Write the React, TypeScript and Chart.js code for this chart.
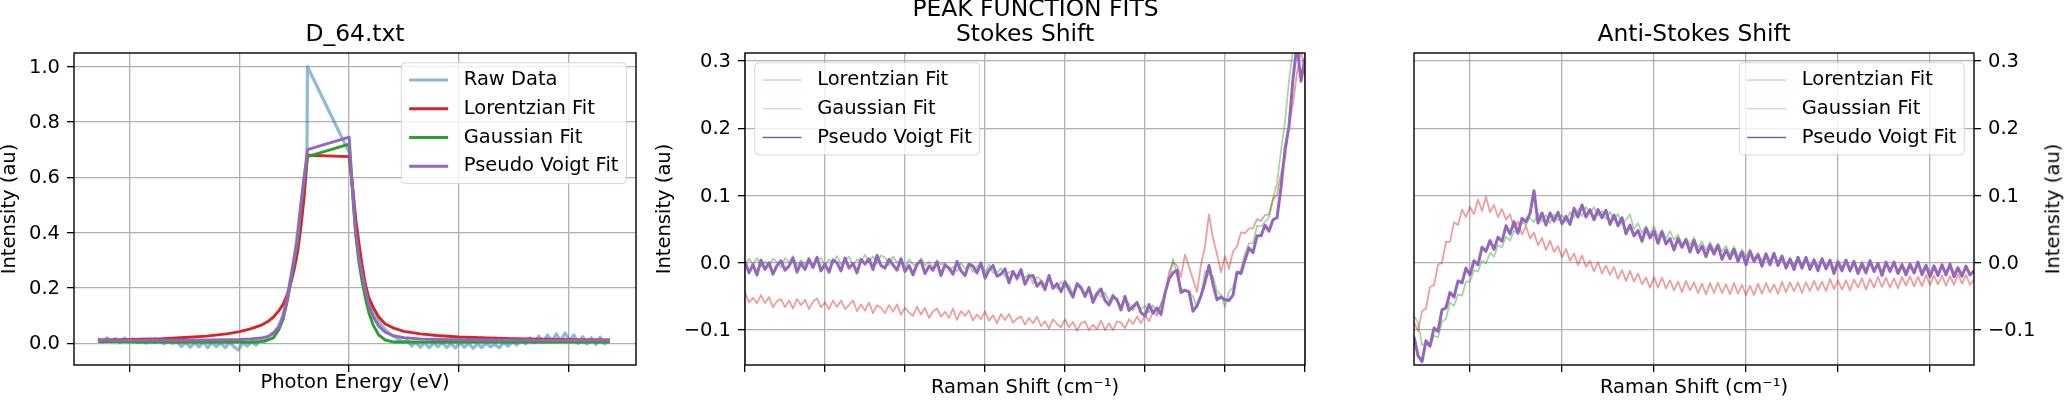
import React, { useEffect, useRef } from 'react';
import { Chart, registerables } from 'chart.js';

Chart.register(...registerables);

const FONT = "'DejaVu Sans', 'Liberation Sans', sans-serif";
const TICK_PX = 19.5;
const TITLE_PX = 23.4;
const GRID = '#b0b0b0';

// ---------- Panel 1: D_64.txt ----------
const photonTicks = [1, 2, 3, 4, 5];
const photonIntensityTicks = [0, 0.2, 0.4, 0.6, 0.8, 1.0];

const rawEnergy = [
  0.71, 0.75, 0.79, 0.83, 0.87, 0.91, 0.95, 0.99, 1.03, 1.07,
  1.11, 1.15, 1.19, 1.23, 1.27, 1.31, 1.35, 1.39, 1.43, 1.47,
  1.51, 1.55, 1.59, 1.63, 1.67, 1.71, 1.75, 1.79, 1.83, 1.87,
  1.91, 1.95, 1.99, 2.03, 2.07, 2.11, 2.15, 2.19, 2.23, 2.27,
  2.31, 2.35, 2.39, 2.43, 2.47, 2.51, 2.55, 2.59, 2.615, 2.62,
  3.0, 3.03, 3.06, 3.09, 3.12, 3.15, 3.18, 3.21, 3.25, 3.29,
  3.33, 3.37, 3.41, 3.45, 3.49, 3.53, 3.57, 3.61, 3.65, 3.69,
  3.73, 3.77, 3.81, 3.85, 3.89, 3.93, 3.97, 4.01, 4.05, 4.09,
  4.13, 4.17, 4.21, 4.25, 4.29, 4.33, 4.37, 4.41, 4.45, 4.49,
  4.53, 4.57, 4.61, 4.65, 4.69, 4.73, 4.77, 4.81, 4.85, 4.89,
  4.93, 4.97, 5.01, 5.05, 5.09, 5.13, 5.17, 5.21, 5.25, 5.29,
  5.33, 5.37,
];
const rawIntensity = [
  0.018, 0.004, 0.020, 0.006, 0.017, 0.002, 0.019, 0.005, 0.016, 0.003,
  0.015, 0.001, 0.014, 0.003, 0.012, -0.002, 0.011, 0.000, 0.006, -0.012,
  0.004, -0.014, 0.002, -0.013, 0.005, -0.015, 0.003, -0.012, 0.001, -0.016,
  0.004, -0.013, -0.024, 0.002, -0.010, 0.006, -0.006, 0.010, 0.004, 0.024,
  0.036, 0.058, 0.095, 0.16, 0.245, 0.34, 0.47, 0.60, 0.665, 1.0,
  0.69, 0.57, 0.43, 0.33, 0.26, 0.20, 0.15, 0.12, 0.09, 0.068,
  0.05, 0.035, 0.024, 0.014, 0.004, 0.010, -0.010, 0.004, -0.014, 0.002,
  -0.016, 0.001, -0.013, 0.003, -0.015, -0.001, -0.017, 0.002, -0.014, 0.000,
  -0.018, -0.002, -0.015, 0.001, -0.013, -0.004, -0.016, 0.003, -0.010, 0.006,
  -0.006, 0.012, -0.002, 0.020, 0.002, 0.026, 0.004, 0.030, 0.006, 0.034,
  0.008, 0.038, 0.010, 0.030, 0.000, 0.024, -0.002, 0.020, -0.004, 0.022,
  -0.002, 0.012,
];

const fitEnergy = [
  0.71, 0.9, 1.1, 1.3, 1.5, 1.7, 1.9, 2.0, 2.1, 2.2,
  2.26, 2.31, 2.36, 2.40, 2.44, 2.47, 2.50, 2.53, 2.56, 2.59,
  2.62, 3.00, 3.03, 3.06, 3.09, 3.12, 3.15, 3.18, 3.22, 3.27,
  3.33, 3.40, 3.50, 3.65, 3.8, 4.0, 4.2, 4.5, 4.8, 5.1,
  5.38,
];
const lorentzFit = [
  0.012, 0.013, 0.015, 0.017, 0.021, 0.026, 0.035, 0.042, 0.052, 0.066,
  0.079, 0.095, 0.118, 0.143, 0.18, 0.22, 0.27, 0.33, 0.42, 0.53,
  0.68, 0.675, 0.57, 0.45, 0.36, 0.28, 0.21, 0.165, 0.13, 0.095,
  0.07, 0.056, 0.043, 0.034, 0.028, 0.023, 0.020, 0.017, 0.015, 0.013,
  0.012,
];
const gaussFit = [
  0.006, 0.006, 0.005, 0.005, 0.005, 0.005, 0.005, 0.005, 0.005, 0.007,
  0.012, 0.02, 0.05, 0.09, 0.16, 0.23, 0.30, 0.37, 0.49, 0.59,
  0.675, 0.72, 0.55, 0.39, 0.29, 0.22, 0.16, 0.11, 0.065, 0.03,
  0.012, 0.005, 0.005, 0.005, 0.005, 0.005, 0.005, 0.005, 0.005, 0.005,
  0.005,
];
const voigtFit = [
  0.011, 0.011, 0.011, 0.011, 0.011, 0.012, 0.013, 0.014, 0.016, 0.019,
  0.025, 0.038, 0.058, 0.10, 0.17, 0.24, 0.31, 0.38, 0.50, 0.60,
  0.70, 0.745, 0.56, 0.40, 0.31, 0.25, 0.19, 0.14, 0.095, 0.062,
  0.04, 0.028, 0.02, 0.016, 0.014, 0.013, 0.012, 0.012, 0.011, 0.011,
  0.011,
];

// ---------- Panels 2 & 3: Raman shift ----------
const stokesTicks = [0, 1, 2, 3, 4, 5, 6, 7];
const antiStokesTicks = [0.7, 1.85, 3.0, 4.15, 5.3, 6.45];
const shiftIntensityTicks = [-0.1, 0, 0.1, 0.2, 0.3];

const ramanShift = [
  0, 0.05, 0.1, 0.15, 0.2, 0.25, 0.3, 0.35, 0.4, 0.45,
  0.5, 0.55, 0.6, 0.65, 0.7, 0.75, 0.8, 0.85, 0.9, 0.95,
  1.0, 1.05, 1.1, 1.15, 1.2, 1.25, 1.3, 1.35, 1.4, 1.45,
  1.5, 1.55, 1.6, 1.65, 1.7, 1.75, 1.8, 1.85, 1.9, 1.95,
  2.0, 2.05, 2.1, 2.15, 2.2, 2.25, 2.3, 2.35, 2.4, 2.45,
  2.5, 2.55, 2.6, 2.65, 2.7, 2.75, 2.8, 2.85, 2.9, 2.95,
  3.0, 3.05, 3.1, 3.15, 3.2, 3.25, 3.3, 3.35, 3.4, 3.45,
  3.5, 3.55, 3.6, 3.65, 3.7, 3.75, 3.8, 3.85, 3.9, 3.95,
  4.0, 4.05, 4.1, 4.15, 4.2, 4.25, 4.3, 4.35, 4.4, 4.45,
  4.5, 4.55, 4.6, 4.65, 4.7, 4.75, 4.8, 4.85, 4.9, 4.95,
  5.0, 5.05, 5.1, 5.15, 5.2, 5.25, 5.3, 5.35, 5.4, 5.45,
  5.5, 5.55, 5.6, 5.65, 5.7, 5.75, 5.8, 5.85, 5.9, 5.95,
  6.0, 6.05, 6.1, 6.15, 6.2, 6.25, 6.3, 6.35, 6.4, 6.45,
  6.5, 6.55, 6.6, 6.65, 6.7, 6.75, 6.8, 6.85, 6.9, 6.95,
  7.0,
];

const stokesVoigt = [
  0.002, -0.015, -0.003, -0.018, 0.004, -0.010, 0.000, -0.017, -0.004, 0.003,
  -0.011, -0.005, 0.007, -0.014, 0.000, -0.010, 0.005, -0.007, 0.008, -0.012,
  -0.002, -0.014, 0.004, 0.000, -0.012, 0.007, -0.008, -0.001, -0.015, 0.005,
  -0.002, 0.006, -0.010, 0.011, -0.004, -0.008, 0.005, -0.003, -0.011, 0.006,
  -0.013, -0.004, -0.018, -0.002, 0.003, -0.016, -0.005, -0.011, 0.001, -0.019,
  -0.003, -0.008, -0.017, 0.002, -0.012, -0.019, -0.002, -0.005, -0.015, 0.000,
  -0.023, -0.011, -0.004, -0.020, -0.017, -0.009, -0.030, -0.013, -0.023, -0.010,
  -0.032, -0.020, -0.019, -0.035, -0.028, -0.040, -0.019, -0.038, -0.031, -0.043,
  -0.028, -0.040, -0.051, -0.031, -0.037, -0.050, -0.037, -0.059, -0.046, -0.039,
  -0.056, -0.063, -0.050, -0.055, -0.070, -0.050, -0.071, -0.065, -0.059, -0.074,
  -0.079, -0.062, -0.075, -0.067, -0.077, -0.045, -0.024, -0.015, -0.011, -0.044,
  -0.041, -0.043, -0.072, -0.064, -0.049, -0.029, -0.004, -0.032, -0.055, -0.051,
  -0.055, -0.056, -0.048, -0.014, -0.016, 0.004, 0.022, 0.015, 0.040, 0.040,
  0.056, 0.047, 0.064, 0.067, 0.112, 0.169, 0.203, 0.273, 0.325, 0.270,
  0.305,
];
const stokesGauss = [
  -0.004, 0.006, -0.002, 0.007, -0.006, 0.002, -0.005, 0.006, 0.001, -0.007,
  0.007, 0.000, 0.010, -0.004, 0.004, -0.002, 0.008, -0.006, 0.005, 0.007,
  -0.003, 0.005, 0.000, 0.010, -0.002, 0.004, 0.009, -0.004, 0.005, 0.001,
  0.012, 0.000, 0.010, -0.002, 0.011, 0.008, -0.004, 0.009, 0.000, 0.003,
  -0.008, 0.005, -0.002, -0.006, 0.007, -0.004, 0.001, -0.007, 0.004, -0.003,
  0.000, -0.011, -0.006, -0.013, 0.000, -0.009, -0.003, -0.014, -0.005, -0.001,
  -0.015, -0.003, -0.015, -0.015, -0.008, -0.021, -0.014, -0.012, -0.026, -0.016,
  -0.022, -0.016, -0.031, -0.021, -0.025, -0.033, -0.022, -0.033, -0.038, -0.028,
  -0.037, -0.033, -0.046, -0.034, -0.039, -0.046, -0.036, -0.051, -0.044, -0.051,
  -0.044, -0.057, -0.046, -0.057, -0.064, -0.056, -0.060, -0.071, -0.060, -0.069,
  -0.064, -0.074, -0.063, -0.075, -0.062, -0.045, -0.028, 0.006, -0.020, -0.039,
  -0.040, -0.045, -0.050, -0.066, -0.051, -0.012, -0.018, -0.020, -0.042, -0.048,
  -0.066, -0.043, -0.036, -0.017, -0.010, 0.014, 0.029, 0.029, 0.055, 0.054,
  0.061, 0.067, 0.096, 0.118, 0.167, 0.209, 0.271, 0.317, 0.330, 0.330,
  0.330,
];
const stokesLorentz = [
  -0.044, -0.059, -0.052, -0.060, -0.048, -0.060, -0.051, -0.066, -0.057, -0.054,
  -0.066, -0.056, -0.068, -0.054, -0.063, -0.055, -0.069, -0.058, -0.053, -0.066,
  -0.059, -0.069, -0.056, -0.066, -0.056, -0.069, -0.063, -0.056, -0.072, -0.062,
  -0.071, -0.059, -0.075, -0.063, -0.067, -0.075, -0.063, -0.073, -0.062, -0.077,
  -0.067, -0.074, -0.079, -0.065, -0.077, -0.067, -0.082, -0.072, -0.068, -0.080,
  -0.073, -0.082, -0.068, -0.085, -0.072, -0.079, -0.071, -0.086, -0.077, -0.084,
  -0.072, -0.086, -0.078, -0.090, -0.076, -0.085, -0.076, -0.089, -0.083, -0.080,
  -0.092, -0.082, -0.090, -0.080, -0.094, -0.087, -0.098, -0.084, -0.091, -0.096,
  -0.084, -0.096, -0.088, -0.101, -0.090, -0.087, -0.100, -0.092, -0.099, -0.086,
  -0.100, -0.090, -0.100, -0.087, -0.089, -0.097, -0.084, -0.091, -0.080, -0.090,
  -0.078, -0.087, -0.073, -0.079, -0.061, -0.050, -0.014, 0.001, -0.004, -0.021,
  0.012, -0.006, -0.025, -0.043, -0.003, 0.025, 0.072, 0.036, 0.013, -0.014,
  0.010, -0.009, 0.017, 0.024, 0.045, 0.044, 0.051, 0.051, 0.065, 0.062,
  0.071, 0.072, 0.094, 0.101, 0.133, 0.155, 0.204, 0.237, 0.282, 0.316,
  0.280,
];

const antiVoigt = [
  -0.110, -0.138, -0.147, -0.116, -0.124, -0.097, -0.102, -0.070, -0.067, -0.044,
  -0.051, -0.027, -0.030, -0.008, -0.018, 0.003, -0.003, 0.023, 0.017, 0.033,
  0.020, 0.038, 0.032, 0.055, 0.043, 0.061, 0.044, 0.066, 0.061, 0.073,
  0.107, 0.059, 0.074, 0.056, 0.074, 0.062, 0.075, 0.058, 0.069, 0.057,
  0.081, 0.068, 0.086, 0.068, 0.079, 0.064, 0.079, 0.067, 0.078, 0.057,
  0.071, 0.055, 0.067, 0.043, 0.056, 0.040, 0.048, 0.032, 0.051, 0.037,
  0.047, 0.029, 0.046, 0.028, 0.036, 0.019, 0.036, 0.023, 0.034, 0.016,
  0.033, 0.015, 0.025, 0.009, 0.026, 0.013, 0.026, 0.005, 0.019, 0.006,
  0.020, 0.002, 0.016, -0.003, 0.017, 0.002, 0.012, -0.005, 0.013, -0.003,
  0.014, -0.004, 0.010, -0.008, 0.005, -0.010, 0.008, -0.008, 0.008, -0.010,
  0.004, -0.012, 0.006, -0.009, 0.004, -0.016, 0.001, -0.012, 0.004, -0.012,
  0.002, -0.016, -0.002, -0.015, 0.003, -0.013, -0.001, -0.019, 0.001, -0.013,
  0.001, -0.016, -0.003, -0.018, -0.002, -0.015, 0.001, -0.018, -0.004, -0.021,
  -0.005, -0.019, -0.003, -0.018, -0.002, -0.021, -0.008, -0.020, -0.005, -0.018,
  -0.012,
];
const antiGauss = [
  -0.079, -0.089, -0.122, -0.120, -0.125, -0.108, -0.111, -0.088, -0.083, -0.059,
  -0.064, -0.047, -0.049, -0.028, -0.028, -0.011, -0.013, 0.003, -0.001, 0.015,
  0.009, 0.026, 0.023, 0.039, 0.033, 0.048, 0.043, 0.061, 0.056, 0.067,
  0.060, 0.073, 0.061, 0.071, 0.059, 0.072, 0.063, 0.071, 0.061, 0.075,
  0.067, 0.080, 0.069, 0.083, 0.073, 0.083, 0.070, 0.077, 0.065, 0.076,
  0.063, 0.073, 0.057, 0.064, 0.072, 0.050, 0.059, 0.044, 0.055, 0.043,
  0.054, 0.039, 0.049, 0.036, 0.047, 0.034, 0.042, 0.027, 0.037, 0.027,
  0.038, 0.023, 0.032, 0.019, 0.031, 0.019, 0.029, 0.017, 0.025, 0.013,
  0.024, 0.009, 0.020, 0.009, 0.020, 0.006, 0.015, 0.003, 0.015, 0.003,
  0.014, 0.001, 0.011, -0.003, 0.008, -0.003, 0.009, -0.002, 0.007, -0.006,
  0.006, -0.006, 0.006, -0.006, 0.003, -0.009, 0.004, -0.007, 0.004, -0.009,
  0.001, -0.011, 0.002, -0.010, 0.002, -0.011, -0.001, -0.013, 0.000, -0.011,
  0.000, -0.012, -0.001, -0.013, -0.003, -0.015, -0.002, -0.012, -0.002, -0.015,
  -0.003, -0.015, -0.005, -0.017, -0.003, -0.015, -0.005, -0.017, -0.006, -0.018,
  -0.012,
];
const antiLorentz = [
  -0.088, -0.102, -0.072, -0.068, -0.036, -0.033, -0.003, 0.000, 0.031, 0.031,
  0.060, 0.056, 0.079, 0.068, 0.083, 0.072, 0.094, 0.077, 0.098, 0.075,
  0.086, 0.068, 0.080, 0.064, 0.072, 0.052, 0.061, 0.042, 0.055, 0.036,
  0.045, 0.026, 0.037, 0.019, 0.033, 0.016, 0.025, 0.008, 0.021, 0.003,
  0.014, -0.003, 0.011, -0.006, 0.003, -0.013, 0.001, -0.016, -0.004, -0.018,
  -0.006, -0.024, -0.011, -0.027, -0.012, -0.028, -0.016, -0.032, -0.022, -0.037,
  -0.021, -0.037, -0.022, -0.038, -0.026, -0.041, -0.028, -0.044, -0.027, -0.041,
  -0.029, -0.045, -0.031, -0.047, -0.030, -0.045, -0.030, -0.045, -0.032, -0.047,
  -0.030, -0.046, -0.033, -0.048, -0.034, -0.048, -0.031, -0.046, -0.030, -0.044,
  -0.032, -0.046, -0.028, -0.044, -0.029, -0.042, -0.029, -0.045, -0.029, -0.042,
  -0.027, -0.041, -0.028, -0.042, -0.024, -0.039, -0.026, -0.040, -0.026, -0.041,
  -0.025, -0.037, -0.023, -0.040, -0.024, -0.037, -0.021, -0.036, -0.022, -0.037,
  -0.023, -0.038, -0.021, -0.034, -0.020, -0.035, -0.021, -0.035, -0.018, -0.033,
  -0.019, -0.032, -0.019, -0.034, -0.020, -0.033, -0.017, -0.031, -0.018, -0.033,
  -0.025,
];

// ---------- helpers ----------
const pts = (xs: number[], ys: number[]) => ys.map((y, i) => ({ x: xs[i], y }));
const fmtTick = (v: number) => (Math.abs(v) < 1e-9 ? '0.0' : v.toFixed(1).replace('-', '\u2212'));

const frameLegend = {
  id: 'frameLegend',
  afterDatasetsDraw(chart: any, _args: any, opts: any) {
    const { ctx, chartArea: a } = chart;
    ctx.save();
    ctx.strokeStyle = '#000';
    ctx.lineWidth = 1.4;
    ctx.strokeRect(a.left, a.top, a.right - a.left, a.bottom - a.top);
    const items = opts.items || [];
    if (items.length) {
      ctx.font = `${TICK_PX}px ${FONT}`;
      const pad = 7.8, handle = 39, gap = 15.6, rowH = 19, spacing = 9.75, axPad = 9.75;
      const textW = Math.max(...items.map((it: any) => ctx.measureText(it.label).width));
      const w = pad + handle + gap + textW + pad;
      const h = pad * 2 + items.length * rowH + (items.length - 1) * spacing;
      const x = opts.align === 'left' ? a.left + axPad : a.right - axPad - w;
      const y = a.top + axPad;
      ctx.beginPath();
      if (ctx.roundRect) ctx.roundRect(x, y, w, h, 4); else ctx.rect(x, y, w, h);
      ctx.fillStyle = 'rgba(255,255,255,0.8)';
      ctx.fill();
      ctx.strokeStyle = 'rgba(204,204,204,0.8)';
      ctx.lineWidth = 1;
      ctx.stroke();
      items.forEach((it: any, i: number) => {
        const cy = y + pad + rowH / 2 + i * (rowH + spacing);
        ctx.beginPath();
        ctx.moveTo(x + pad, cy);
        ctx.lineTo(x + pad + handle, cy);
        ctx.strokeStyle = it.color;
        ctx.lineWidth = it.width;
        ctx.stroke();
        ctx.fillStyle = '#000';
        ctx.textBaseline = 'middle';
        ctx.textAlign = 'left';
        ctx.fillText(it.label, x + pad + handle + gap, cy);
      });
    }
    ctx.restore();
  },
};

function line(label: string, data: any[], color: string, width: number, order: number) {
  return {
    label, data, borderColor: color, backgroundColor: color, borderWidth: width,
    pointRadius: 0, fill: false, tension: 0, order, clip: 0, borderJoinStyle: 'round',
  };
}

function makeConfig(p: any) {
  const gridOpts = { color: GRID, lineWidth: 1.3, drawTicks: true, tickLength: 7, tickColor: '#000', tickWidth: 1.3 };
  return {
    type: 'line',
    data: { datasets: p.datasets },
    plugins: [frameLegend],
    options: {
      responsive: false,
      animation: false,
      devicePixelRatio: 1,
      events: [],
      layout: { padding: p.padding },
      scales: {
        x: {
          type: 'linear', min: p.xMin, max: p.xMax,
          afterBuildTicks: (s: any) => { s.ticks = p.xTicks.map((v: number) => ({ value: v })); },
          afterFit: (s: any) => { s.height = 40; },
          grid: gridOpts,
          border: { display: false },
          ticks: { callback: () => '', autoSkip: false, maxRotation: 0 },
          title: {
            display: true, text: p.xTitle, color: '#000',
            font: { size: TICK_PX, family: FONT, lineHeight: 1 },
            padding: { top: 0, bottom: p.xTitlePad },
          },
        },
        y: {
          type: 'linear', position: p.yPos, min: p.yMin, max: p.yMax,
          afterBuildTicks: (s: any) => { s.ticks = p.yTicks.map((v: number) => ({ value: v })); },
          afterFit: (s: any) => { s.width = p.yWidth; },
          grid: gridOpts,
          border: { display: false },
          ticks: {
            autoSkip: false, padding: 7, color: '#000', labelOffset: 1,
            font: { size: TICK_PX, family: FONT },
            callback: (v: any) => fmtTick(Number(v)),
          },
          title: p.yTitle
            ? { display: true, text: p.yTitle, color: '#000', font: { size: TICK_PX, family: FONT, lineHeight: 1 }, padding: { top: 0, bottom: 0 } }
            : { display: false },
        },
      },
      plugins: {
        legend: { display: false },
        tooltip: { enabled: false },
        title: {
          display: true, text: p.title, fullSize: false, color: '#000',
          font: { size: TITLE_PX, family: FONT, weight: 'normal', lineHeight: 1 },
          padding: { top: 23.7, bottom: 5.9 },
        },
        frameLegend: { items: p.legend, align: p.legendAlign },
      },
    },
  };
}

const fitLegendThin = [
  { label: 'Lorentzian Fit', color: 'rgba(214,39,40,0.4)', width: 1 },
  { label: 'Gaussian Fit', color: 'rgba(44,160,44,0.4)', width: 1 },
  { label: 'Pseudo Voigt Fit', color: '#8060a8', width: 1.4 },
];

const panel1 = makeConfig({
  datasets: [
    line('Raw Data', pts(rawEnergy, rawIntensity), 'rgba(31,119,180,0.5)', 3.2, 4),
    line('Lorentzian Fit', pts(fitEnergy, lorentzFit), '#d62728', 2.9, 3),
    line('Gaussian Fit', pts(fitEnergy, gaussFit), '#2ca02c', 2.9, 2),
    line('Pseudo Voigt Fit', pts(fitEnergy, voigtFit), '#9467bd', 2.9, 1),
  ],
  padding: { left: 0, right: 14, top: 0, bottom: 0 },
  xMin: 0.49, xMax: 5.617, xTicks: photonTicks, xTitle: 'Photon Energy (eV)', xTitlePad: 12.75,
  yPos: 'left', yWidth: 74, yMin: -0.0784, yMax: 1.0495, yTicks: photonIntensityTicks, yTitle: 'Intensity (au)',
  title: 'D_64.txt',
  legend: [
    { label: 'Raw Data', color: 'rgba(31,119,180,0.5)', width: 2.9 },
    { label: 'Lorentzian Fit', color: '#d62728', width: 2.9 },
    { label: 'Gaussian Fit', color: '#2ca02c', width: 2.9 },
    { label: 'Pseudo Voigt Fit', color: '#9467bd', width: 2.9 },
  ],
  legendAlign: 'right',
});

const panel2 = makeConfig({
  datasets: [
    line('Lorentzian Fit', pts(ramanShift, stokesLorentz), 'rgba(214,39,40,0.45)', 1.8, 3),
    line('Gaussian Fit', pts(ramanShift, stokesGauss), 'rgba(44,160,44,0.45)', 1.7, 2),
    line('Pseudo Voigt Fit', pts(ramanShift, stokesVoigt), '#9467bd', 3.0, 1),
  ],
  padding: { left: 0, right: 15, top: 0, bottom: 0 },
  xMin: 0, xMax: 7, xTicks: stokesTicks, xTitle: 'Raman Shift (cm\u207B\u00B9)', xTitlePad: 6.95,
  yPos: 'left', yWidth: 90, yMin: -0.152, yMax: 0.3119, yTicks: shiftIntensityTicks, yTitle: 'Intensity (au)',
  title: 'Stokes Shift',
  legend: fitLegendThin,
  legendAlign: 'left',
});

const panel3 = makeConfig({
  datasets: [
    line('Lorentzian Fit', pts(ramanShift, antiLorentz), 'rgba(214,39,40,0.45)', 1.8, 3),
    line('Gaussian Fit', pts(ramanShift, antiGauss), 'rgba(44,160,44,0.45)', 1.7, 2),
    line('Pseudo Voigt Fit', pts(ramanShift, antiVoigt), '#9467bd', 3.0, 1),
  ],
  padding: { left: 74, right: 0, top: 0, bottom: 0 },
  xMin: 0, xMax: 7, xTicks: antiStokesTicks, xTitle: 'Raman Shift (cm\u207B\u00B9)', xTitlePad: 6.95,
  yPos: 'right', yWidth: 97, yMin: -0.152, yMax: 0.3119, yTicks: shiftIntensityTicks, yTitle: null,
  title: 'Anti-Stokes Shift',
  legend: fitLegendThin,
  legendAlign: 'right',
});

function Panel({ config, left, width }: { config: any; left: number; width: number }) {
  const ref = useRef<HTMLCanvasElement>(null);
  useEffect(() => {
    const chart = new Chart(ref.current as HTMLCanvasElement, config);
    return () => chart.destroy();
  }, [config]);
  return (
    <canvas
      ref={ref}
      width={width}
      height={405}
      style={{ position: 'absolute', left, top: 0, width, height: 405 }}
    />
  );
}

export default function App() {
  Chart.defaults.font.family = FONT;
  Chart.defaults.color = '#000';
  return (
    <div style={{ position: 'fixed', left: 0, top: 0, width: 2071, height: 405, background: '#fff', overflow: 'hidden' }}>
      <Panel config={panel1} left={0} width={650} />
      <Panel config={panel2} left={655} width={665} />
      <Panel config={panel3} left={1340} width={731} />
      <div
        style={{
          position: 'absolute', left: 0, top: -2.8, width: 2071, textAlign: 'center',
          fontFamily: FONT, fontSize: TITLE_PX, lineHeight: 1, color: '#000', whiteSpace: 'nowrap',
        }}
      >
        PEAK FUNCTION FITS
      </div>
      <div
        style={{
          position: 'absolute', left: 2053, top: 209, transform: 'translate(-50%, -50%) rotate(-90deg)',
          fontFamily: FONT, fontSize: TICK_PX, lineHeight: 1, color: '#000', whiteSpace: 'nowrap',
        }}
      >
        Intensity (au)
      </div>
    </div>
  );
}
